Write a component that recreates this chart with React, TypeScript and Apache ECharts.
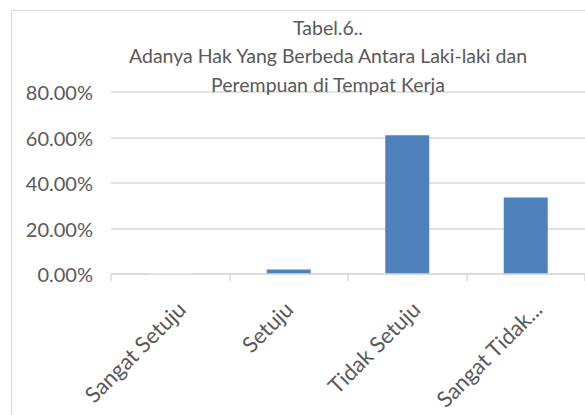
import React, { useEffect, useRef } from "react";
import * as echarts from "echarts";

const titleLines = [
  "Tabel.6..",
  "Adanya Hak Yang Berbeda Antara Laki-laki dan",
  "Perempuan di Tempat Kerja",
];
const categories = ["Sangat Setuju", "Setuju", "Tidak Setuju", "Sangat Tidak..."];
const values = [0, 2.0, 61.0, 33.6];
const yTicks = { min: 0, max: 80, interval: 20 };

// per-label horizontal nudge (styling only), px
const labelShift = [7.8, 0, 6.1, 8.5];

export default function App() {
  const ref = useRef<HTMLDivElement>(null);
  useEffect(() => {
    if (!ref.current) return;
    const chart = echarts.init(ref.current, null, { renderer: "svg" });
    const font = "Lato, 'Open Sans', sans-serif";
    const rich: Record<string, any> = {};
    labelShift.forEach((s, i) => {
      rich["l" + i] = {
        fontFamily: font,
        fontSize: 22,
        color: "#595959",
        padding: [2 * s, -s, 0, 0],
      };
    });
    chart.setOption({
      animation: false,
      backgroundColor: "#ffffff",
      textStyle: { fontFamily: font },
      title: {
        text: titleLines.join("\n"),
        left: "center",
        top: 13,
        padding: 0,
        textStyle: {
          fontFamily: font,
          fontSize: 19.5,
          fontWeight: "normal",
          color: "#595959",
          lineHeight: 28.5,
        },
      },
      graphic: [
        {
          type: "rect",
          shape: { x: 11.5, y: 10.5, width: 800, height: 600 },
          style: { fill: "none", stroke: "#d9d9d9", lineWidth: 1 },
          silent: true,
          z: -1,
        },
      ],
      grid: { left: 111, right: 71, top: 92, height: 182, containLabel: false },
      xAxis: {
        type: "category",
        data: categories,
        z: 3,
        axisLine: { show: true, lineStyle: { color: "#d9d9d9", width: 1.5 } },
        axisTick: { show: true, length: 7, lineStyle: { color: "#d9d9d9", width: 1.5 } },
        axisLabel: {
          rotate: 45,
          interval: 0,
          margin: 31,
          fontFamily: font,
          fontSize: 22,
          color: "#595959",
          formatter: (v: string, i: number) => "{l" + i + "|" + v + "}",
          rich,
        },
      },
      yAxis: {
        type: "value",
        min: yTicks.min,
        max: yTicks.max,
        interval: yTicks.interval,
        axisLine: { show: false },
        axisTick: { show: false },
        splitLine: { lineStyle: { color: "#d9d9d9", width: 1.5 } },
        axisLabel: {
          margin: 18,
          fontFamily: font,
          fontSize: 20,
          color: "#595959",
          formatter: (v: number) => v.toFixed(2) + "%",
        },
      },
      series: [
        {
          // white halo behind each bar (gridline gaps)
          type: "bar",
          data: values,
          barWidth: 44,
          silent: true,
          itemStyle: { color: "#ffffff", borderColor: "#ffffff", borderWidth: 8 },
        },
        {
          type: "bar",
          data: values,
          barWidth: 44,
          barGap: "-100%",
          itemStyle: { color: "#4f81bd" },
        },
      ],
    });
    return () => chart.dispose();
  }, []);
  return (
    <div
      style={{
        position: "fixed",
        left: 0,
        top: 0,
        width: 585,
        height: 415,
        overflow: "hidden",
        background: "#fff",
      }}
    >
      <div ref={ref} style={{ width: 656, height: 430 }} />
    </div>
  );
}
